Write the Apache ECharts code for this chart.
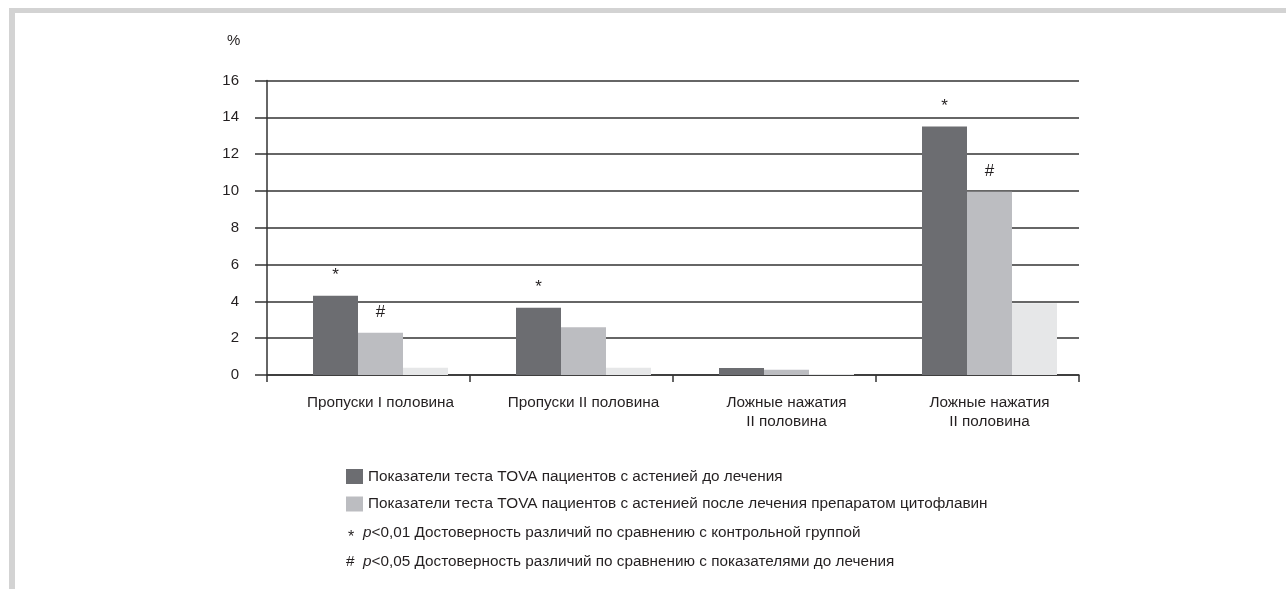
<!DOCTYPE html>
<html>
<head>
<meta charset="utf-8">
<script src="https://cdn.jsdelivr.net/npm/echarts@6/dist/echarts.min.js"></script>
<style>
  html, body { margin: 0; padding: 0; background: #ffffff; }
  #chart { width: 1286px; height: 589px; }
</style>
</head>
<body>
<div id="chart"></div>
<script>
// Categories along the x axis (two-line labels use \n)
var categories = [
  'Пропуски I половина',
  'Пропуски II половина',
  'Ложные нажатия\nII половина',
  'Ложные нажатия\nII половина'
];

// Series names
var nameBefore = 'Показатели теста TOVA пациентов с астенией до лечения';
var nameAfter = 'Показатели теста TOVA пациентов с астенией после лечения препаратом цитофлавин';
var nameControl = 'Контрольная группа';

// Values, %
var valuesBefore = [4.3, 3.65, 0.38, 13.5];
var valuesAfter = [2.3, 2.6, 0.28, 9.95];
var valuesControl = [0.4, 0.4, 0.05, 3.9];

// Significance marks above bars
var marksBefore = ['*', '*', '', '*'];
var marksAfter = ['#', '', '', '#'];

// Y axis ticks
var yMin = 0, yMax = 16, yStep = 2;

// Note lines under the legend
var noteStar = 'p<0,01 Достоверность различий по сравнению с контрольной группой';
var noteHash = 'p<0,05 Достоверность различий по сравнению с показателями до лечения';

var FONT = '"Liberation Sans", Arial, sans-serif';
var TXT = '#231f20';
var FS = 15.3;

function withMarks(values, marks) {
  return values.map(function (v, i) {
    return {
      value: v,
      label: { show: marks[i] !== '', formatter: marks[i] }
    };
  });
}

var markLabel = {
  position: 'top',
  distance: 12,
  color: TXT,
  fontFamily: FONT,
  fontSize: 17
};

var richItalic = { i: { fontStyle: 'italic', fontFamily: FONT, fontSize: FS, fill: TXT } };

var chart = echarts.init(document.getElementById('chart'), null, { renderer: 'canvas' });

chart.setOption({
  backgroundColor: '#ffffff',
  animation: false,
  textStyle: { fontFamily: FONT, color: TXT },
  // grid 0 carries the axis frame and grid lines; grid 1 (shifted) carries bars and labels
  grid: [
    { left: 267, right: 207, top: 80.5, bottom: 214, containLabel: false },
    { left: 279, right: 195, top: 80.5, bottom: 214, containLabel: false }
  ],
  legend: {
    data: [nameBefore, nameAfter],
    orient: 'vertical',
    left: 346,
    top: 469,
    padding: 0,
    itemWidth: 17,
    itemHeight: 15,
    itemGap: 12.5,
    icon: 'rect',
    textStyle: { fontFamily: FONT, fontSize: FS, lineHeight: 15, color: TXT },
    selectedMode: false
  },
  xAxis: [
    {
      type: 'category',
      gridIndex: 0,
      data: categories,
      axisLine: { show: true, lineStyle: { color: '#333333', width: 1.5 } },
      axisTick: { show: true, length: 7, lineStyle: { color: '#333333', width: 1.5 } },
      axisLabel: { show: false }
    },
    {
      type: 'category',
      gridIndex: 1,
      data: categories,
      axisLine: { show: false },
      axisTick: { show: false },
      axisLabel: {
        color: TXT,
        fontFamily: FONT,
        fontSize: FS,
        margin: 18,
        lineHeight: 19
      }
    }
  ],
  yAxis: [
    {
      type: 'value',
      gridIndex: 0,
      min: yMin,
      max: yMax,
      interval: yStep,
      axisLine: { show: true, lineStyle: { color: '#333333', width: 1.5 } },
      axisTick: { show: true, length: 12, lineStyle: { color: '#333333', width: 1.5 } },
      splitLine: { show: true, lineStyle: { color: '#333333', width: 1.5 } },
      axisLabel: {
        color: TXT,
        fontFamily: FONT,
        fontSize: 15,
        margin: 28,
        padding: [4, 0, 0, 0]
      }
    },
    {
      type: 'value',
      gridIndex: 1,
      min: yMin,
      max: yMax,
      interval: yStep,
      show: false
    }
  ],
  series: [
    {
      name: nameBefore,
      type: 'bar',
      xAxisIndex: 1,
      yAxisIndex: 1,
      data: withMarks(valuesBefore, marksBefore),
      itemStyle: { color: '#6c6d71' },
      barGap: '0%',
      barCategoryGap: '33.5%',
      label: markLabel
    },
    {
      name: nameAfter,
      type: 'bar',
      xAxisIndex: 1,
      yAxisIndex: 1,
      data: withMarks(valuesAfter, marksAfter),
      itemStyle: { color: '#bcbdc1' },
      label: markLabel
    },
    {
      name: nameControl,
      type: 'bar',
      xAxisIndex: 1,
      yAxisIndex: 1,
      data: valuesControl,
      itemStyle: { color: '#e6e7e8' }
    }
  ],
  graphic: [
    // grey frame, top and left edges
    { type: 'rect', left: 9, top: 8, shape: { width: 1277, height: 5 }, style: { fill: '#d3d3d3' }, silent: true },
    { type: 'rect', left: 9, top: 8, shape: { width: 6, height: 581 }, style: { fill: '#d3d3d3' }, silent: true },
    // unit label of the value axis
    { type: 'text', left: 227, top: 33, style: { text: '%', fontFamily: FONT, fontSize: 15, fill: TXT } },
    // significance notes
    { type: 'text', left: 348, top: 530, style: { text: '*', fontFamily: FONT, fontSize: 16, fill: TXT } },
    { type: 'text', left: 363, top: 525, style: { text: '{i|p}' + noteStar.slice(1), fontFamily: FONT, fontSize: FS, fill: TXT, rich: richItalic } },
    { type: 'text', left: 346, top: 554, style: { text: '#', fontFamily: FONT, fontSize: FS, fill: TXT } },
    { type: 'text', left: 363, top: 554, style: { text: '{i|p}' + noteHash.slice(1), fontFamily: FONT, fontSize: FS, fill: TXT, rich: richItalic } }
  ]
});
</script>
</body>
</html>
